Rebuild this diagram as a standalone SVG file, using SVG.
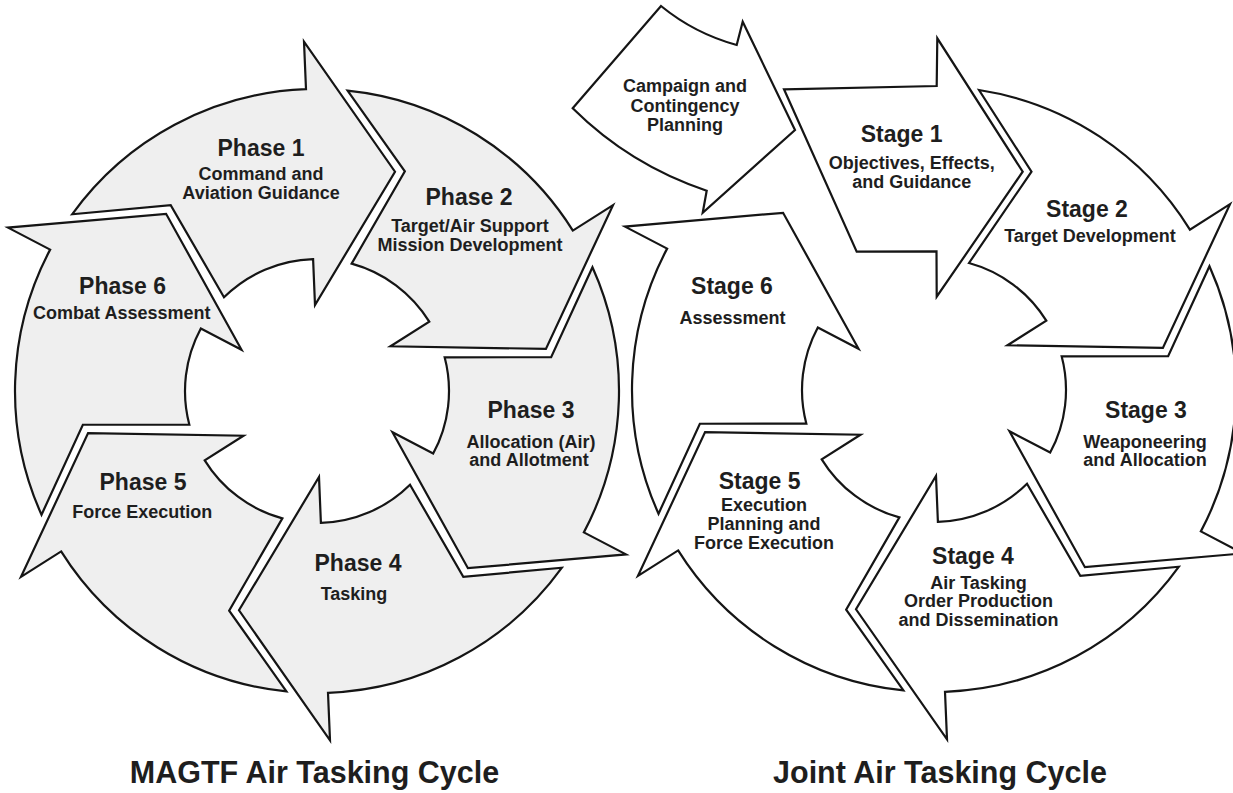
<svg xmlns="http://www.w3.org/2000/svg" xmlns:xlink="http://www.w3.org/1999/xlink" width="1233" height="793" viewBox="0 0 1233 793">
  <style>
    .seg { stroke: #151515; stroke-width: 2.2; stroke-linejoin: miter; stroke-miterlimit: 10; }
    .magtf { fill: #efefef; }
    .joint { fill: #ffffff; }
    text { font-family: "Liberation Sans", Arial, Helvetica, sans-serif; font-weight: bold; fill: #1e1e1e; text-anchor: middle; }
    .hd { font-size: 23px; }
    .sb { font-size: 18px; }
    .title { font-size: 30.5px; }
  </style>
  <defs>
    <!-- one curved arrow of a six-part ring, centred on the origin, pointing clockwise at the top -->
    <path id="seg" d="M-244.9,-176.7 A302,302 0 0 1 -11,-301.8 L-13,-349.3 L78,-219.3 L-2,-86 L-3.9,-131.9 A132,132 0 0 0 -93,-93.7 L-146.3,-185.9 Z"/>
  </defs>

  <rect width="1233" height="793" fill="#ffffff"/>

  <!-- MAGTF cycle -->
  <g id="magtf-phase1">
    <use xlink:href="#seg" class="seg magtf" transform="translate(317 391)"/>
    <text class="hd" x="261" y="156">Phase 1</text>
    <text class="sb" x="261" y="180.3">Command and</text>
    <text class="sb" x="261" y="199.3">Aviation Guidance</text>
  </g>
  <g id="magtf-phase2">
    <use xlink:href="#seg" class="seg magtf" transform="translate(317 391) rotate(60)"/>
    <text class="hd" x="469" y="205">Phase 2</text>
    <text class="sb" x="470" y="232.3">Target/Air Support</text>
    <text class="sb" x="470" y="251.3">Mission Development</text>
  </g>
  <g id="magtf-phase3">
    <use xlink:href="#seg" class="seg magtf" transform="translate(317 391) rotate(120)"/>
    <text class="hd" x="531" y="418.2">Phase 3</text>
    <text class="sb" x="531" y="448">Allocation (Air)</text>
    <text class="sb" x="529" y="466.3">and Allotment</text>
  </g>
  <g id="magtf-phase4">
    <use xlink:href="#seg" class="seg magtf" transform="translate(317 391) rotate(180)"/>
    <text class="hd" x="358" y="571">Phase 4</text>
    <text class="sb" x="354" y="599.6">Tasking</text>
  </g>
  <g id="magtf-phase5">
    <use xlink:href="#seg" class="seg magtf" transform="translate(317 391) rotate(240)"/>
    <text class="hd" x="143" y="490">Phase 5</text>
    <text class="sb" x="142.3" y="518">Force Execution</text>
  </g>
  <g id="magtf-phase6">
    <use xlink:href="#seg" class="seg magtf" transform="translate(317 391) rotate(300)"/>
    <text class="hd" x="122.6" y="294.2">Phase 6</text>
    <text class="sb" x="121.8" y="319.3">Combat Assessment</text>
  </g>
  <text id="magtf-title" class="title" x="314.5" y="783">MAGTF Air Tasking Cycle</text>

  <!-- Joint cycle -->
  <g id="joint-campaign">
    <path class="seg joint" d="M661,6 A205,205 0 0 0 736.7,45 L742.7,21.7 L795,130 L702.7,212.7 L706.7,190.7 A345,345 0 0 1 572.7,108.3 Z"/>
    <text class="sb" x="685" y="92.3">Campaign and</text>
    <text class="sb" x="685" y="112.3">Contingency</text>
    <text class="sb" x="685" y="131.3">Planning</text>
  </g>
  <g id="joint-stage1">
    <path class="seg joint" d="M784,89.3 L936.7,86 L937.3,38.3 L1022.7,171.7 L936.7,296.7 L936.5,251.3 L856.7,251.7 Z"/>
    <text class="hd" x="901.7" y="141.5">Stage 1</text>
    <text class="sb" x="911.7" y="169">Objectives, Effects,</text>
    <text class="sb" x="911.7" y="188">and Guidance</text>
  </g>
  <g id="joint-stage2">
    <path class="seg joint" d="M979,90 A302,302 0 0 1 1189.9,229.6 L1230,204.1 L1162.9,347.9 L1007.5,345.3 L1046.3,320.7 A132,132 0 0 0 969,263 L1031.5,171.7 Z"/>
    <text class="hd" x="1087" y="216.7">Stage 2</text>
    <text class="sb" x="1090" y="242.3">Target Development</text>
  </g>
  <g id="joint-stage3">
    <use xlink:href="#seg" class="seg joint" transform="translate(934 390) rotate(120)"/>
    <text class="hd" x="1146" y="418.2">Stage 3</text>
    <text class="sb" x="1145" y="448">Weaponeering</text>
    <text class="sb" x="1145" y="466.3">and Allocation</text>
  </g>
  <g id="joint-stage4">
    <use xlink:href="#seg" class="seg joint" transform="translate(934 390) rotate(180)"/>
    <text class="hd" x="973" y="564">Stage 4</text>
    <text class="sb" x="978.5" y="588.6">Air Tasking</text>
    <text class="sb" x="978.5" y="607.3">Order Production</text>
    <text class="sb" x="978.5" y="626.3">and Dissemination</text>
  </g>
  <g id="joint-stage5">
    <use xlink:href="#seg" class="seg joint" transform="translate(934 390) rotate(240)"/>
    <text class="hd" x="759.6" y="489">Stage 5</text>
    <text class="sb" x="764" y="510.6">Execution</text>
    <text class="sb" x="764" y="529.6">Planning and</text>
    <text class="sb" x="764" y="549">Force Execution</text>
  </g>
  <g id="joint-stage6">
    <use xlink:href="#seg" class="seg joint" transform="translate(934 390) rotate(300)"/>
    <text class="hd" x="732" y="294.2">Stage 6</text>
    <text class="sb" x="732.5" y="323.8">Assessment</text>
  </g>
  <text id="joint-title" class="title" x="940" y="783">Joint Air Tasking Cycle</text>
</svg>
